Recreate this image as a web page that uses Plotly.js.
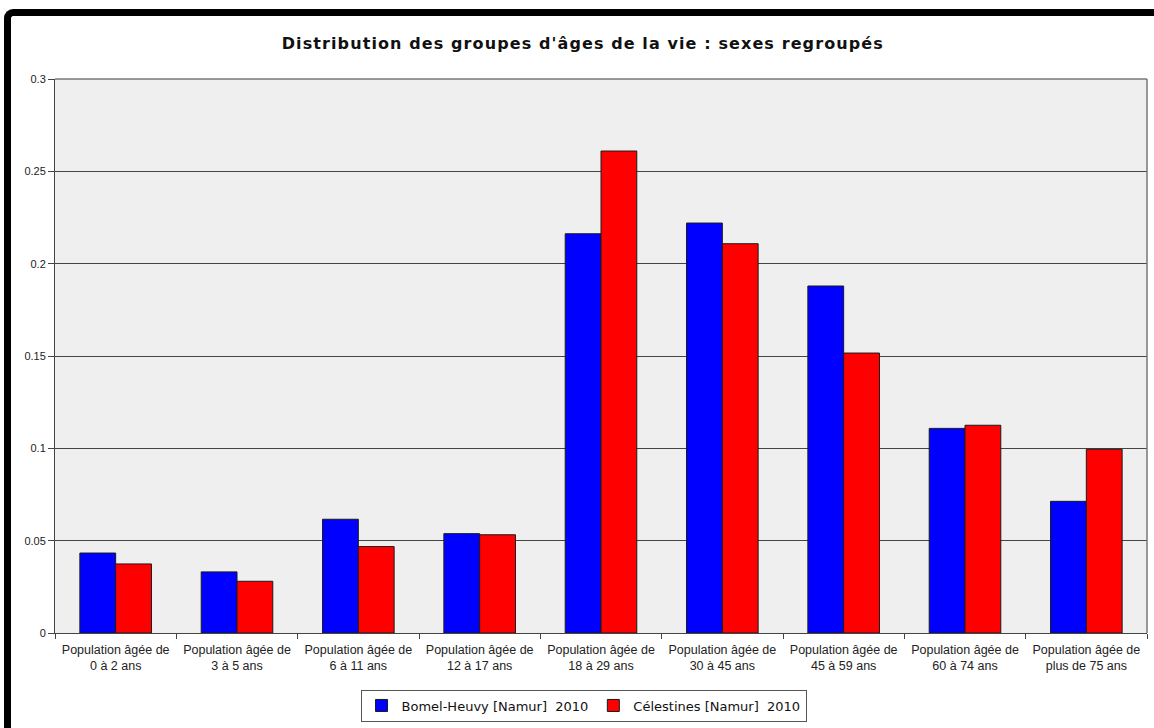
<!DOCTYPE html>
<html>
<head>
<meta charset="utf-8">
<script src="https://cdn.plot.ly/plotly-3.0.1.min.js"></script>
<style>
html,body{margin:0;padding:0;background:#fff;overflow:hidden;}
#chart{position:absolute;left:0;top:0;width:1154px;height:728px;}
#frame{position:absolute;left:4px;top:9px;width:1160px;height:740px;border-top:7px solid #000;border-left:7px solid #000;border-top-left-radius:9px;pointer-events:none;box-sizing:border-box;}
#chart .gtitle{letter-spacing:1.1px;}
</style>
</head>
<body>
<div id="chart"></div>
<div id="frame"></div>
<script>
const categories = [
  "Population âgée de<br>0 à 2 ans",
  "Population âgée de<br>3 à 5 ans",
  "Population âgée de<br>6 à 11 ans",
  "Population âgée de<br>12 à 17 ans",
  "Population âgée de<br>18 à 29 ans",
  "Population âgée de<br>30 à 45 ans",
  "Population âgée de<br>45 à 59 ans",
  "Population âgée de<br>60 à 74 ans",
  "Population âgée de<br>plus de 75 ans"
];
const bomelName = "Bomel-Heuvy [Namur]\u00a0 2010";
const bomelValues = [0.0433, 0.0331, 0.0616, 0.0538, 0.2162, 0.2220, 0.1879, 0.1108, 0.0713];
const celestinesName = "Célestines [Namur]\u00a0 2010";
const celestinesValues = [0.0374, 0.0280, 0.0468, 0.0532, 0.2610, 0.2108, 0.1516, 0.1125, 0.0995];
const yTickVals = [0, 0.05, 0.1, 0.15, 0.2, 0.25, 0.3];
const yTickText = ["0", "0.05", "0.1", "0.15", "0.2", "0.25", "0.3"];

const traces = [
  {type:"bar", name:bomelName, x:categories, y:bomelValues,
   marker:{color:"#0000ff", line:{color:"#1a1a1a", width:1}}},
  {type:"bar", name:celestinesName, x:categories, y:celestinesValues,
   marker:{color:"#ff0000", line:{color:"#1a1a1a", width:1}}}
];

const layout = {
  width:1154, height:728,
  margin:{l:55, r:7, t:79, b:95, pad:0},
  paper_bgcolor:"#ffffff",
  plot_bgcolor:"#efefef",
  barmode:"group",
  bargap:0.41,
  bargroupgap:0,
  title:{text:"Distribution des groupes d'âges de la vie : sexes regroupés",
         x:0.505, xanchor:"center", y:0.94, yanchor:"middle",
         font:{family:"DejaVu Sans", size:16, color:"#111", weight:"bold"}},
  xaxis:{type:"category", showgrid:false, ticks:"outside", tickson:"boundaries",
         ticklen:5, tickcolor:"#444", showline:true, linecolor:"#444", linewidth:1,
         mirror:false, ticklabelstandoff:5,
         tickfont:{family:"Liberation Sans, Arial, sans-serif", size:12.5, color:"#222"},
         automargin:false},
  yaxis:{range:[0,0.3], tickvals:yTickVals, ticktext:yTickText, ticks:"outside",
         ticklen:6, tickcolor:"#444", showline:true, linecolor:"#444", linewidth:1,
         showgrid:true, gridcolor:"#444", gridwidth:1, zeroline:false,
         tickfont:{family:"Liberation Sans, Arial, sans-serif", size:11, color:"#222"},
         automargin:false},
  shapes:[
    {type:"line", xref:"paper", yref:"paper", x0:0, x1:1, y0:1, y1:1, line:{color:"#777", width:1.5}},
    {type:"line", xref:"paper", yref:"paper", x0:1, x1:1, y0:0, y1:1, line:{color:"#777", width:1.5}}
  ],
  showlegend:true,
  legend:{orientation:"h", x:0.484, xanchor:"center", y:-0.102, yanchor:"top",
          bordercolor:"#555", borderwidth:1, bgcolor:"#ffffff",
          font:{family:"DejaVu Sans, Verdana, sans-serif", size:13, color:"#111"},
          itemwidth:30, traceorder:"normal"}
};

Plotly.newPlot("chart", traces, layout, {displayModeBar:false, staticPlot:true});
</script>
</body>
</html>
